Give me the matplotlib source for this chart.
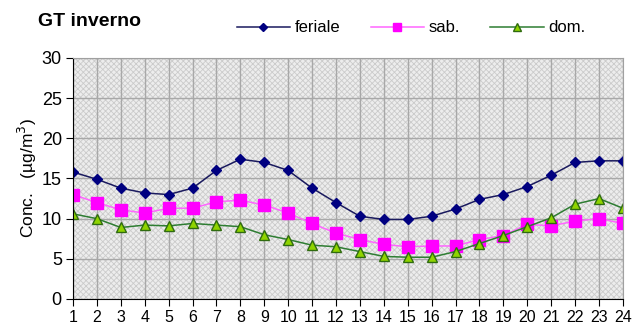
import matplotlib
matplotlib.use('Agg')
import matplotlib.pyplot as plt

plt.rcParams['font.family'] = ['Liberation Sans', 'DejaVu Sans']
plt.rcParams['hatch.linewidth'] = 0.6

# ore del giorno e concentrazioni medie (ug/m3)
ore = list(range(1, 25))
feriale = [15.8, 14.9, 13.8, 13.2, 13.0, 13.8, 16.0, 17.4, 17.0, 16.0, 13.8, 12.0,
           10.3, 9.9, 9.9, 10.3, 11.2, 12.4, 13.0, 14.0, 15.4, 17.0, 17.2, 17.2]
sab = [13.0, 12.0, 11.1, 10.7, 11.3, 11.3, 12.1, 12.3, 11.7, 10.7, 9.4, 8.2,
       7.4, 6.8, 6.5, 6.6, 6.6, 7.4, 7.9, 9.3, 9.1, 9.7, 10.0, 9.4]
dom = [10.6, 10.0, 8.9, 9.2, 9.1, 9.4, 9.2, 9.0, 8.0, 7.4, 6.7, 6.5,
       5.9, 5.3, 5.2, 5.2, 5.9, 6.9, 7.9, 9.0, 10.1, 11.8, 12.5, 11.3]

fig = plt.figure(figsize=(6.33, 3.31), dpi=100)
ax = fig.add_axes([0.1153, 0.0967, 0.8687, 0.7281])

# sfondo retinato grigio
ax.set_facecolor('#ededed')
ax.fill_between([1, 24], 0, 30, facecolor='none', edgecolor='#cbcbcb',
                hatch='xxxxxx', linewidth=0, zorder=0)

ax.plot(ore, feriale, color='#1a1a5e', marker='D', markersize=5.5,
        markerfacecolor='#000080', markeredgecolor='#000080', linewidth=1.1, label='feriale')
ax.plot(ore, sab, color='#ff66ff', marker='s', markersize=8,
        markerfacecolor='#ff00ff', markeredgecolor='#ff00ff', linewidth=1.1, label='sab.')
ax.plot(ore, dom, color='#2e7d32', marker='^', markersize=7.5,
        markerfacecolor='#8fd400', markeredgecolor='#2f6b10', linewidth=1.1, label='dom.')

ax.set_xlim(1, 24)
ax.set_ylim(0, 30)
ax.set_xticks(ore)
ax.set_yticks(range(0, 31, 5))
ax.grid(True, color='#a8a8a8', linewidth=1.0)
ax.set_axisbelow(True)

for s in ['top', 'right']:
    ax.spines[s].set_color('#a0a0a0')
for s in ['left', 'bottom']:
    ax.spines[s].set_color('black')

ax.tick_params(axis='x', labelsize=11.5, length=5, direction='out', pad=3)
ax.tick_params(axis='y', labelsize=13, length=5, direction='out', pad=3)
ax.set_ylabel('Conc.   (\u00b5g/m$^3$)', fontsize=12.5, labelpad=2)

fig.text(0.06, 0.935, 'GT inverno', fontsize=14, fontweight='bold', va='center')
leg = ax.legend(loc='center', bbox_to_anchor=(0.615, 1.125), ncol=3, frameon=False,
                fontsize=12, handlelength=3.2, columnspacing=1.8, handletextpad=0.3,
                markerscale=0.75)

plt.savefig('out.png', dpi=100)
